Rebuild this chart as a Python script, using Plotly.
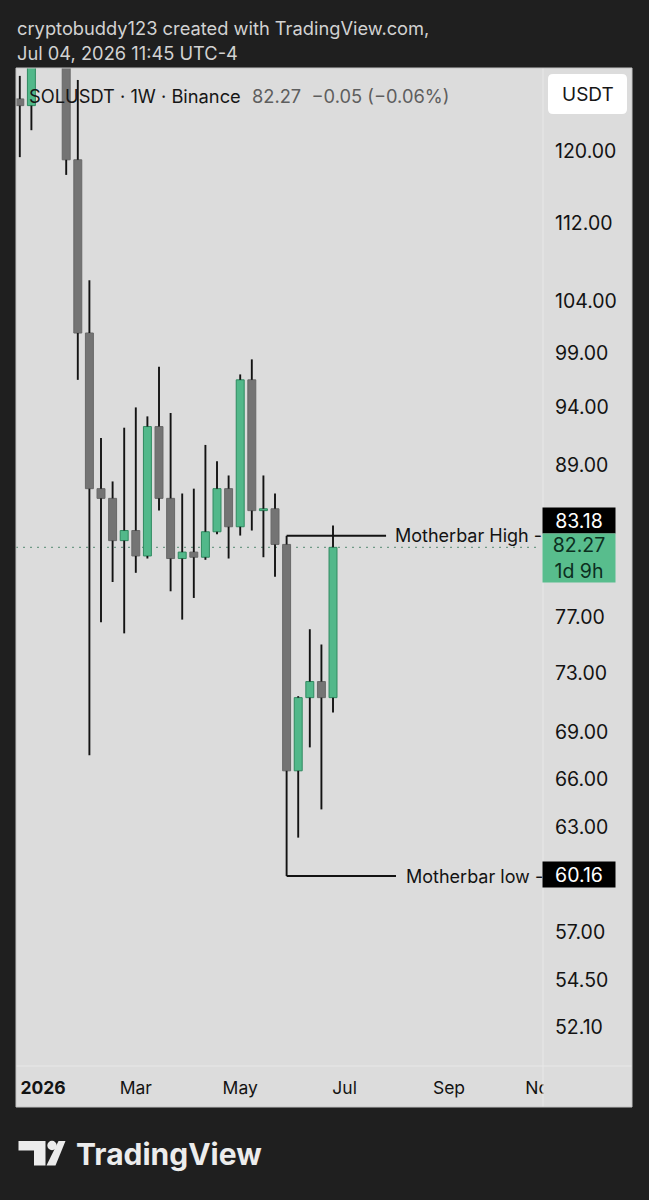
import math
import plotly.graph_objects as go

# ---------------- data (weekly candles, SOLUSDT, Binance) ----------------
dates = ["2025-12-22", "2025-12-29", "2026-01-05", "2026-01-12", "2026-01-19", "2026-01-26",
         "2026-02-02", "2026-02-09", "2026-02-16", "2026-02-23", "2026-03-02", "2026-03-09",
         "2026-03-16", "2026-03-23", "2026-03-30", "2026-04-06", "2026-04-13", "2026-04-20",
         "2026-04-27", "2026-05-04", "2026-05-11", "2026-05-18", "2026-05-25", "2026-06-01",
         "2026-06-08", "2026-06-15", "2026-06-22", "2026-06-29"]
opens = [126.1, 125.3, 134.0, 141.5, 138.0, 119.0, 100.9, 87.0, 86.2, 82.8, 83.6, 81.6,
         92.3, 86.2, 81.4, 81.9, 81.5, 83.5, 87.0, 83.9, 96.5, 85.2, 85.35, 82.5,
         66.5, 71.3, 72.4, 71.3]
highs = [128.9, 137.0, 146.0, 145.0, 140.5, 128.4, 106.1, 91.3, 87.6, 92.2, 94.0, 93.2,
         97.7, 93.5, 86.6, 87.0, 90.7, 89.3, 88.1, 97.0, 98.4, 88.1, 86.6, 83.18,
         71.4, 76.1, 75.0, 84.0]
lows = [119.3, 122.4, 131.0, 133.0, 117.3, 96.5, 67.5, 76.6, 79.6, 75.8, 80.3, 81.4,
        85.2, 78.9, 76.8, 78.4, 81.3, 83.3, 81.4, 83.2, 83.6, 81.5, 80.0, 60.16,
        62.4, 68.0, 64.1, 70.3]
closes = [125.3, 134.0, 141.5, 138.0, 119.0, 100.9, 87.0, 86.2, 82.8, 83.6, 81.6, 92.3,
          86.2, 81.4, 81.9, 81.5, 83.5, 87.0, 83.9, 96.5, 85.2, 85.35, 82.5, 66.5,
          71.3, 72.4, 71.3, 82.27]

price_ticks = [120, 112, 104, 99, 94, 89, 77, 73, 69, 66, 63, 57, 54.5, 52.1]
time_tickvals = ["2026-01-05", "2026-03-02", "2026-05-04", "2026-07-06", "2026-09-07", "2026-11-02"]
time_ticktext = ["<b>2026</b>", "Mar", "May", "Jul", "Sep", "Nov"]

motherbar_idx = 23  # week of 2026-06-01
mb_high = highs[motherbar_idx]
mb_low = lows[motherbar_idx]
last_close = closes[-1]

# ---------------- styling ----------------
W, H = 649, 1200
PL, PR, PT, PB = 16, 543, 68, 1066  # plot area in pixels
BG = "#1f1f1f"
PANEL = "#dcdcdc"
GREEN = "#52b88a"
GREEN_EDGE = "#2f8a60"
GRAY = "#747474"
GRAY_EDGE = "#686868"
FONT = "Inter"


def px(x):
    return (x - PL) / (PR - PL)


def py(y):
    return (PB - y) / (PB - PT)


def path(points):
    s = "M" + " L".join(f"{px(x):.5f},{py(y):.5f}" for x, y in points) + " Z"
    return s


fig = go.Figure()

# wicks (outside bodies)
wx, wy = [], []
for d, o, h, l, c in zip(dates, opens, highs, lows, closes):
    top, bot = max(o, c), min(o, c)
    wx += [d, d, None, d, d, None]
    wy += [h, top, None, bot, l, None]
fig.add_trace(go.Scatter(x=wx, y=wy, mode="lines", line=dict(color="#131313", width=1.9),
                         hoverinfo="skip", showlegend=False))

up = [c >= o for o, c in zip(opens, closes)]
fig.add_trace(go.Bar(
    x=dates,
    y=[max(abs(c - o), 0.12) for o, c in zip(opens, closes)],
    base=[min(o, c) for o, c in zip(opens, closes)],
    width=4.8 * 86400000,
    marker=dict(color=[GREEN if u else GRAY for u in up],
                line=dict(color=[GREEN_EDGE if u else GRAY_EDGE for u in up], width=1)),
    hoverinfo="skip", showlegend=False))

shapes = []
# panel background
shapes.append(dict(type="rect", xref="paper", yref="paper", x0=px(16), x1=px(632), y0=py(1107), y1=py(68),
                   fillcolor=PANEL, line=dict(width=0), layer="below"))
# current price dotted line
shapes.append(dict(type="line", xref="paper", yref="y", x0=0, x1=0.995, y0=last_close, y1=last_close,
                   line=dict(color="#6f9a86", width=1.3, dash="2px,5px"), layer="below"))
# motherbar lines
shapes.append(dict(type="line", xref="x", yref="y", x0=dates[motherbar_idx], x1="2026-07-31",
                   y0=mb_high, y1=mb_high, line=dict(color="#121212", width=2)))
shapes.append(dict(type="line", xref="x", yref="y", x0=dates[motherbar_idx], x1="2026-08-06",
                   y0=mb_low, y1=mb_low, line=dict(color="#121212", width=2)))
# cover for clipped "Nov" label in the price-scale corner
shapes.append(dict(type="rect", xref="paper", yref="paper", x0=px(543.5), x1=px(631.5), y0=py(1106.5), y1=py(1066.5),
                   fillcolor=PANEL, line=dict(width=0), layer="above"))
# separators
shapes.append(dict(type="line", xref="paper", yref="paper", x0=px(543), x1=px(543), y0=py(1107), y1=py(68),
                   line=dict(color="#e8e8e8", width=1), layer="above"))
shapes.append(dict(type="line", xref="paper", yref="paper", x0=px(16), x1=px(632), y0=py(1066), y1=py(1066),
                   line=dict(color="#e8e8e8", width=1), layer="above"))
# panel border
shapes.append(dict(type="rect", xref="paper", yref="paper", x0=px(16), x1=px(632), y0=py(1107), y1=py(68),
                   line=dict(color="#c4c4c4", width=1), layer="above"))
# USDT box (rounded)
x0, x1, y0, y1, r = 548, 627, 74, 114, 5
usdt = (f"M{px(x0 + r):.5f},{py(y0):.5f} L{px(x1 - r):.5f},{py(y0):.5f} "
        f"Q{px(x1):.5f},{py(y0):.5f} {px(x1):.5f},{py(y0 + r):.5f} "
        f"L{px(x1):.5f},{py(y1 - r):.5f} Q{px(x1):.5f},{py(y1):.5f} {px(x1 - r):.5f},{py(y1):.5f} "
        f"L{px(x0 + r):.5f},{py(y1):.5f} Q{px(x0):.5f},{py(y1):.5f} {px(x0):.5f},{py(y1 - r):.5f} "
        f"L{px(x0):.5f},{py(y0 + r):.5f} Q{px(x0):.5f},{py(y0):.5f} {px(x0 + r):.5f},{py(y0):.5f} Z")
shapes.append(dict(type="path", xref="paper", yref="paper", path=usdt, fillcolor="#ffffff",
                   line=dict(width=0), layer="above"))
# TradingView logo icon
shapes.append(dict(type="path", xref="paper", yref="paper",
                   path=path([(18.5, 1141), (45.5, 1141), (45.5, 1165.5), (34, 1165.5), (34, 1150.5), (18.5, 1150.5)]),
                   fillcolor="#ececec", line=dict(width=0), layer="above"))
shapes.append(dict(type="circle", xref="paper", yref="paper", x0=px(47.3), x1=px(56.7), y0=py(1150.2), y1=py(1140.8),
                   fillcolor="#ececec", line=dict(width=0), layer="above"))
shapes.append(dict(type="path", xref="paper", yref="paper",
                   path=path([(58.5, 1141), (65.5, 1141), (55.5, 1165.5), (46.5, 1165.5)]),
                   fillcolor="#ececec", line=dict(width=0), layer="above"))

ann = []


def text(x, y, s, size=18, color="#131313", xanchor="left", **kw):
    ann.append(dict(xref="paper", yref="paper", x=px(x), y=py(y), text=s, showarrow=False,
                    xanchor=xanchor, yanchor="middle", font=dict(family=FONT, size=size, color=color), **kw))


text(15, 28, "cryptobuddy123 created with TradingView.com,", size=18.3, color="#d2d2d2")
text(15, 53, "Jul 04, 2026 11:45 UTC-4", size=18.3, color="#d2d2d2")
text(27, 96, "SOLUSDT · 1W · Binance", size=18.3, color="#161616")
text(250, 96, "82.27  −0.05 (−0.06%)", size=18.3, color="#5e5e5e")
text(587.5, 95, "USDT", size=19, xanchor="center", color="#161616")
text(74, 1154, "<b>TradingView</b>", size=30, color="#ececec")

# Motherbar labels (log axis: annotation y in log10)
ann.append(dict(xref="paper", yref="y", x=px(393), y=math.log10(mb_high), text="Motherbar High -",
                showarrow=False, xanchor="left", yanchor="middle", font=dict(family=FONT, size=18, color="#131313")))
ann.append(dict(xref="paper", yref="y", x=px(404), y=math.log10(mb_low), text="Motherbar low -",
                showarrow=False, xanchor="left", yanchor="middle", font=dict(family=FONT, size=18, color="#131313")))

# price scale labels
ann.append(dict(xref="paper", yref="y", x=px(579), y=math.log10(mb_high), yshift=15.5, text=f"{mb_high:.2f}",
                showarrow=False, xanchor="center", yanchor="middle", bgcolor="#000000", width=72, height=25,
                borderpad=0, font=dict(family=FONT, size=19.5, color="#ffffff")))
ann.append(dict(xref="paper", yref="y", x=px(579), y=math.log10(last_close), yshift=-10.5,
                text=f"{last_close:.2f}<br>1d 9h", showarrow=False, xanchor="center", yanchor="middle",
                bgcolor="#58bd8d", width=72, height=48, borderpad=0,
                font=dict(family=FONT, size=19.5, color="#0c2f1f")))
ann.append(dict(xref="paper", yref="y", x=px(579), y=math.log10(mb_low), yshift=1.5, text=f"{mb_low:.2f}",
                showarrow=False, xanchor="center", yanchor="middle", bgcolor="#000000", width=72, height=25,
                borderpad=0, font=dict(family=FONT, size=19.5, color="#ffffff")))

ytop = 120 * math.exp((151 - PT) / 1050)
ybot = 120 * math.exp((151 - PB) / 1050)

fig.update_layout(
    width=W, height=H,
    margin=dict(l=PL, r=W - PR, t=PT, b=H - PB, autoexpand=False, pad=0),
    paper_bgcolor=BG, plot_bgcolor="rgba(0,0,0,0)",
    showlegend=False, dragmode=False,
    shapes=shapes, annotations=ann,
    xaxis=dict(type="date", range=["2025-12-19 17:00", "2026-11-02 17:00"],
               tickmode="array", tickvals=time_tickvals, ticktext=time_ticktext,
               showgrid=False, zeroline=False, showline=False, ticks="",
               ticklabelstandoff=9, tickfont=dict(family=FONT, size=17.5, color="#131313"),
               fixedrange=True, rangeslider=dict(visible=False)),
    yaxis=dict(type="log", side="right", range=[math.log10(ybot), math.log10(ytop)],
               tickmode="array", tickvals=price_ticks, ticktext=[f"{v:.2f}" for v in price_ticks],
               showgrid=False, zeroline=False, showline=False, ticks="",
               ticklabelstandoff=11, tickfont=dict(family=FONT, size=19.5, color="#131313"),
               fixedrange=True),
)

fig.write_html("out.html", config={"displayModeBar": False, "staticPlot": True})
